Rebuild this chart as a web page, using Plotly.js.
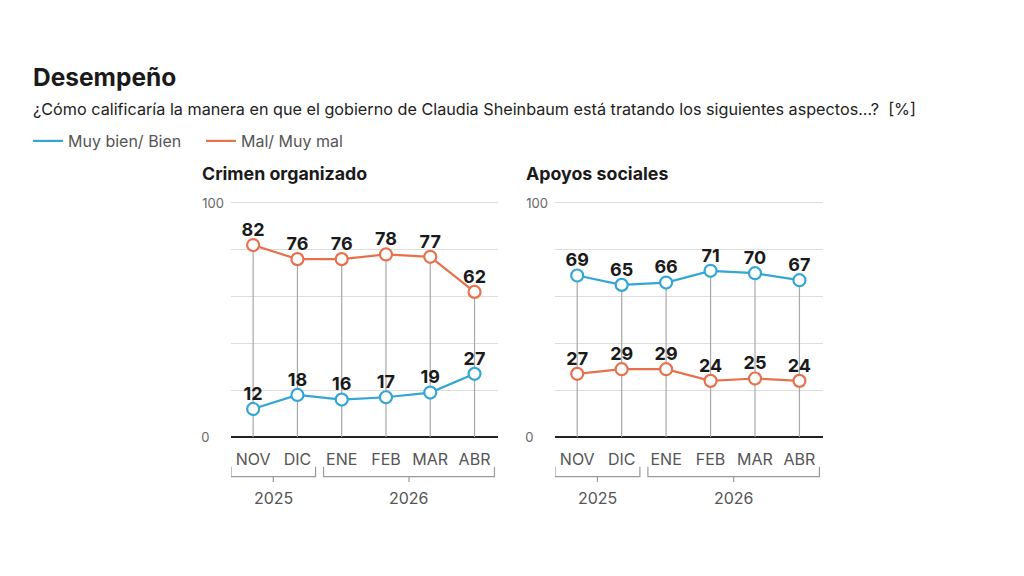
<!DOCTYPE html>
<html>
<head>
<meta charset="utf-8">
<script src="https://cdn.plot.ly/plotly-3.0.1.min.js"></script>
<style>html,body{margin:0;padding:0;background:#fff;}#chart{width:1024px;height:576px;}</style>
</head>
<body>
<div id="chart"></div>
<script>
// ---- data ----
const months = ['NOV','DIC','ENE','FEB','MAR','ABR'];
const years = ['2025','2026'];
const yearOfMonth = [0,0,1,1,1,1];
const crimenBien = [12,18,16,17,19,27];
const crimenMal  = [82,76,76,78,77,62];
const apoyosBien = [69,65,66,71,70,67];
const apoyosMal  = [27,29,29,24,25,24];
const seriesNames = ['Muy bien/ Bien','Mal/ Muy mal'];
const panelTitles = ['Crimen organizado','Apoyos sociales'];

// ---- style ----
const BLUE = '#33a6d6';
const ORANGE = '#e6714c';
const FONT = 'Inter, "Noto Sans", sans-serif';
const idx = months.map((m,i)=>i);

function dropLines(a, b, xa, ya){
  const xs=[], ys=[];
  idx.forEach(i=>{ xs.push(i,i,null); ys.push(0, Math.max(a[i],b[i]), null); });
  return {x:xs, y:ys, xaxis:xa, yaxis:ya, mode:'lines', line:{color:'#a8a8a8', width:1.2}, hoverinfo:'skip', showlegend:false};
}
function series(vals, color, xa, ya){
  return {x:idx, y:vals, xaxis:xa, yaxis:ya, mode:'lines+markers',
    line:{color:color, width:2.2},
    marker:{symbol:'circle', size:12, color:'#ffffff', line:{color:color, width:2.2}},
    showlegend:false, cliponaxis:false};
}
function labels(vals, xa, ya){
  return {x:idx, y:vals, xaxis:xa, yaxis:ya, mode:'markers+text',
    text:vals.map(String), textposition:'top center',
    textfont:{family:FONT, size:18, color:'#1a1a1a', weight:700},
    marker:{size:6, opacity:0}, showlegend:false, cliponaxis:false, hoverinfo:'skip'};
}
const traces = [
  dropLines(crimenBien, crimenMal, 'x', 'y'),
  dropLines(apoyosBien, apoyosMal, 'x2', 'y2'),
  series(crimenMal, ORANGE, 'x', 'y'),
  series(crimenBien, BLUE, 'x', 'y'),
  series(apoyosMal, ORANGE, 'x2', 'y2'),
  series(apoyosBien, BLUE, 'x2', 'y2'),
  labels(crimenMal, 'x', 'y'),
  labels(crimenBien, 'x', 'y'),
  labels(apoyosMal, 'x2', 'y2'),
  labels(apoyosBien, 'x2', 'y2'),
  {x:[null], y:[null], mode:'lines', name:seriesNames[0], line:{color:BLUE, width:2.2}, showlegend:true, xaxis:'x', yaxis:'y'},
  {x:[null], y:[null], mode:'lines', name:seriesNames[1], line:{color:ORANGE, width:2.2}, showlegend:true, xaxis:'x', yaxis:'y'}
];

function xax(domain){
  return {domain:domain, range:[-0.5,5.53], tickvals:idx, ticktext:months, showgrid:false, zeroline:false,
    showline:false, ticks:'', tickfont:{family:FONT, size:16, color:'#555'}, ticklabelstandoff:10, fixedrange:true};
}
function yax(anchor){
  return {anchor:anchor, domain:[0.2392,0.6497], range:[-0.5,100.5], tickvals:[0,20,40,60,80,100],
    ticktext:['0\u00a0\u00a0\u00a0\u00a0','','','','','100'], showgrid:true, gridcolor:'#dedede', gridwidth:1,
    zeroline:true, zerolinecolor:'#222', zerolinewidth:2.5, showline:false, ticks:'',
    tickfont:{family:FONT, size:13, color:'#666'}, ticklabelstandoff:6, fixedrange:true};
}

const shapes = [], annotations = [];
['x','x2'].forEach(xa=>{
  years.forEach((yr, g)=>{
    const members = idx.filter(i=>yearOfMonth[i]===g);
    const first = members[0], last = members[members.length-1];
    const x0 = first - 0.5 + (g>0 ? 0.09 : 0);
    const x1 = last + (g<years.length-1 ? 0.41 : 0.45);
    const xc = (x0+x1)/2;
    const st = {color:'#9a9a9a', width:1.2};
    shapes.push({type:'path', xref:xa, yref:'paper',
      path:`M${x0},0.1898 L${x0},0.1724 L${x1},0.1724 L${x1},0.1898`, line:st});
    shapes.push({type:'line', xref:xa, yref:'paper', x0:xc, x1:xc, y0:0.1724, y1:0.1632, line:st});
    annotations.push({xref:xa, yref:'paper', x:xc, y:0.1354, text:yr, showarrow:false,
      font:{family:FONT, size:16, color:'#555'}, xanchor:'center', yanchor:'middle'});
  });
});
annotations.push({xref:'paper', yref:'paper', x:31/1024, y:1-77/576, text:'<b>Desempeño</b>', showarrow:false,
  xanchor:'left', yanchor:'middle', font:{family:FONT, size:24.5, color:'#1a1a1a'}});
annotations.push({xref:'paper', yref:'paper', x:31/1024, y:1-109/576,
  text:'¿Cómo calificaría la manera en que el gobierno de Claudia Sheinbaum está tratando los siguientes aspectos...?  [%]',
  showarrow:false, xanchor:'left', yanchor:'middle', font:{family:FONT, size:16.2, color:'#222'}});
annotations.push({xref:'paper', yref:'paper', x:200/1024, y:1-174/576, text:'<b>'+panelTitles[0]+'</b>', showarrow:false,
  xanchor:'left', yanchor:'middle', font:{family:FONT, size:17.8, color:'#1a1a1a'}});
annotations.push({xref:'paper', yref:'paper', x:524/1024, y:1-174/576, text:'<b>'+panelTitles[1]+'</b>', showarrow:false,
  xanchor:'left', yanchor:'middle', font:{family:FONT, size:17.8, color:'#1a1a1a'}});

const layout = {
  width:1024, height:576, margin:{l:0,r:0,t:0,b:0}, paper_bgcolor:'#fff', plot_bgcolor:'#fff',
  font:{family:FONT},
  xaxis:xax([231/1024, 498/1024]), yaxis:yax('x'),
  xaxis2:xax([555/1024, 823/1024]), yaxis2:yax('x2'),
  showlegend:true,
  legend:{orientation:'h', x:28/1024, xanchor:'left', y:1-141/576, yanchor:'middle',
    font:{family:FONT, size:16, color:'#555'}, itemwidth:30, entrywidth:128, bgcolor:'rgba(0,0,0,0)', tracegroupgap:0},
  shapes:shapes, annotations:annotations
};
Plotly.newPlot('chart', traces, layout, {displayModeBar:false, staticPlot:true});
</script>
</body>
</html>
